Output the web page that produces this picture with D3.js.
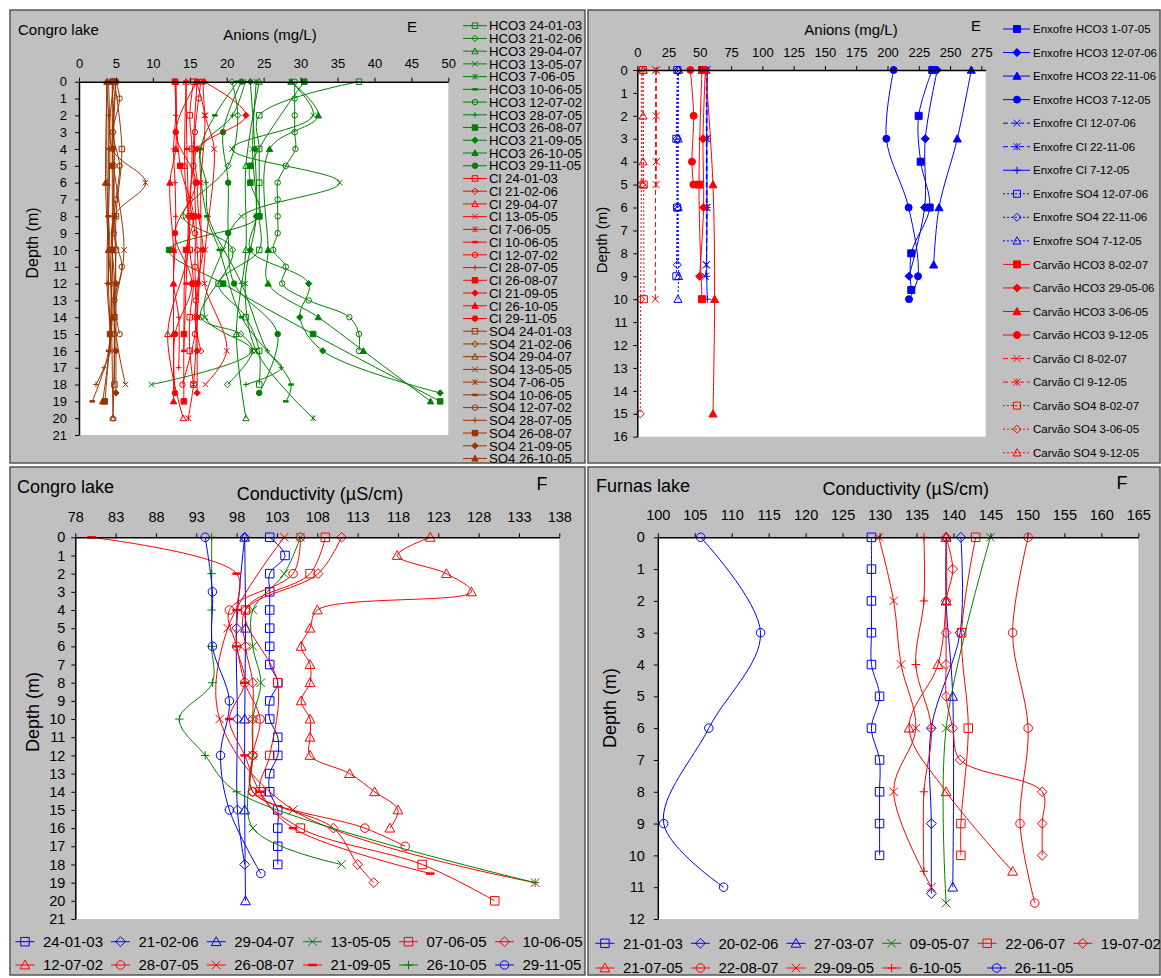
<!DOCTYPE html>
<html>
<head>
<meta charset="utf-8">
<script src="https://cdn.jsdelivr.net/npm/d3@7"></script>
<style>
  body { margin: 0; background: #fff; }
</style>
</head>
<body>
<svg id="chart" width="1161" height="978"></svg>
<script>
// ---- data: [depth (m), value] pairs ----
const hco3Dates = ["24-01-03", "21-02-06", "29-04-07", "13-05-07", "7-06-05", "10-06-05", "12-07-02", "28-07-05", "26-08-07", "21-09-05", "26-10-05", "29-11-05"];
const clDates = ["24-01-03", "21-02-06", "29-04-07", "13-05-05", "7-06-05", "10-06-05", "12-07-02", "28-07-05", "26-08-07", "21-09-05", "26-10-05", "29-11-05"];
const so4Dates = ["24-01-03", "21-02-06", "29-04-07", "13-05-05", "7-06-05", "10-06-05", "12-07-02", "28-07-05", "26-08-07", "21-09-05", "26-10-05"];

const congroHCO3 = [
  [[0, 37.9], [2, 24.4], [4, 24.4], [6, 24.4], [8, 24.4], [10, 24.4], [12, 18.9], [14, 22.6], [16, 24.4], [18, 24.4]],
  [[0, 20.7], [2, 21.5], [5, 20.2], [8, 14.1], [10, 20.8], [14, 16.5], [15, 21.9], [16, 23.5], [18, 20.1]],
  [[0, 24.4], [5, 22.6], [10, 22.6], [15, 21.3], [20, 22.6]],
  [[0, 28.7], [2, 31.7], [4, 20.7], [6, 35.3], [8, 22.0], [10, 19.5], [14, 17.1], [16, 23.4], [18, 9.8]],
  [[0, 24.0], [4, 23.5], [8, 24.0], [12, 22.5], [16, 24.0], [20, 31.7]],
  [[0, 21.5], [2, 18.4], [4, 16.5], [8, 17.3], [10, 19.0], [14, 22.0], [18, 28.7], [19, 28.0]],
  [[0, 29.2], [1, 29.2], [2, 29.2], [3, 29.2], [4, 29.3], [5, 28.0], [6, 26.9], [7, 26.9], [8, 26.9], [9, 26.9], [10, 26.3], [11, 28.0], [12, 27.5], [13, 31.1], [14, 36.6], [15, 37.9], [16, 37.9]],
  [[0, 22.5], [2, 20.8], [4, 16.4], [6, 17.2], [8, 17.5], [12, 22.0], [16, 25.5], [17, 27.4], [18, 22.6]],
  [[0, 30.5], [5, 23.2], [6, 23.2], [8, 24.4], [10, 12.2], [12, 19.5], [15, 31.7], [19, 48.9]],
  [[0, 23.2], [4, 23.8], [8, 24.0], [10, 23.2], [12, 31.1], [14, 29.9], [16, 33.0], [18.5, 48.9]],
  [[0, 28.7], [2, 32.4], [4, 25.8], [10, 25.6], [12, 25.6], [14, 32.4], [16, 38.5], [19, 47.6]],
  [[0, 22.0], [3, 19.5], [6, 20.2], [9, 20.2], [12, 21.0], [15, 26.9], [18.5, 24.4]]
];
const congroCl = [
  [[0, 15.5], [2, 15.0], [4, 15.3], [8, 15.0], [10, 15.0], [12, 15.5], [14, 15.0], [16, 15.0], [18, 15.5]],
  [[0, 16.0], [4, 15.5], [8, 15.8], [10, 16.0], [12, 16.2], [14, 15.7], [16, 16.5]],
  [[0, 14.5], [5, 14.3], [10, 14.8], [15, 12.0], [20, 14.1]],
  [[0, 16.8], [2, 17.1], [4, 18.3], [10, 17.1], [12, 17.0], [16, 20.0], [18, 17.1]],
  [[0, 15.9], [2, 17.0], [6, 16.5], [10, 16.5], [14, 16.0], [18, 15.5], [20, 14.8]],
  [[0, 14.5], [4, 14.6], [8, 14.8], [12, 14.5], [16, 14.2]],
  [[0, 16.5], [1, 16.2], [3, 15.7], [5, 15.5], [7, 15.0], [9, 15.7], [11, 15.7], [13, 15.8], [15, 15.7], [18, 14.0]],
  [[0, 13.1], [2, 13.1], [4, 12.8], [6, 13.0], [8, 13.1], [10, 13.0], [12, 12.8], [14, 13.5], [17, 13.5]],
  [[0, 13.0], [5, 13.7], [8, 15.5], [10, 14.5], [15, 14.2], [19, 14.2]],
  [[0, 16.9], [2, 22.6], [4, 16.0], [6, 16.0], [8, 16.2], [10, 16.8], [12, 16.0], [14, 16.0], [16, 16.0], [18.5, 16.0]],
  [[0, 13.1], [4, 13.1], [6, 12.3], [10, 12.8], [12, 12.8], [15, 12.8], [19, 12.8]],
  [[0, 16.0], [3, 13.1], [6, 15.8], [9, 13.0], [12, 15.3], [15, 13.0], [18.5, 13.0]]
];
const congroSO4 = [
  [[0, 4.8], [4, 5.8], [8, 5.0], [10, 5.0], [14, 4.8], [18, 4.8]],
  [[0, 4.5], [5, 4.8], [10, 4.5], [15, 4.8], [20, 4.6]],
  [[0, 3.8], [6, 3.8], [10, 4.2], [20, 4.6]],
  [[0, 5.0], [4, 4.5], [10, 6.1], [14, 4.8], [18, 6.3]],
  [[0, 4.8], [4, 4.5], [6, 9.0], [8, 4.8], [12, 4.8], [16, 4.8]],
  [[0, 4.0], [4, 4.2], [8, 4.0], [12, 4.0], [16, 4.0], [19, 1.8]],
  [[0, 5.0], [1, 5.5], [3, 4.6], [5, 5.5], [7, 5.0], [9, 4.7], [11, 5.8], [13, 4.8], [15, 5.5]],
  [[0, 3.7], [2, 4.0], [4, 4.0], [8, 3.9], [12, 3.8], [16, 4.2], [17, 3.4], [18, 2.3]],
  [[0, 4.5], [5, 4.5], [10, 4.5], [15, 4.2], [19, 3.5]],
  [[0, 5.0], [4, 4.6], [8, 4.8], [12, 5.0], [16, 5.0], [18.5, 5.0]],
  [[0, 3.8], [6, 3.6], [10, 4.0], [14, 4.5], [19, 3.2]]
];

const enxofreLabels = ["Enxofre HCO3 1-07-05", "Enxofre HCO3 12-07-06", "Enxofre HCO3 22-11-06", "Enxofre HCO3 7-12-05", "Enxofre Cl 12-07-06", "Enxofre Cl 22-11-06", "Enxofre Cl 7-12-05", "Enxofre SO4 12-07-06", "Enxofre SO4 22-11-06", "Enxofre SO4 7-12-05"];
const carvaoLabels = ["Carvão HCO3 8-02-07", "Carvão HCO3 29-05-06", "Carvão HCO3 3-06-05", "Carvão HCO3 9-12-05", "Carvão Cl 8-02-07", "Carvão Cl 9-12-05", "Carvão SO4 8-02-07", "Carvão SO4 3-06-05", "Carvão SO4 9-12-05"];
const enxofreValues = [
  [[0, 235.8], [2, 224.9], [4, 226.5], [6, 233.7], [8, 219.0], [9.6, 219.0]],
  [[0, 239.8], [3, 230.2], [6, 229.7], [9, 217.2]],
  [[0, 267.0], [3, 255.8], [6, 241.2], [8.5, 236.9]],
  [[0, 204.9], [3, 199.1], [6, 216.9], [9, 224.4], [10, 217.2]],
  [[0, 55.2], [3, 55.2], [6, 55.2], [8.5, 55.2], [9, 54.4]],
  [[0, 55.7], [3, 55.7], [6, 55.7], [8.5, 55.2]],
  [[0, 56.0], [3, 55.5], [6, 55.7], [9, 55.5], [10, 56.0]],
  [[0, 32.0], [3, 31.2], [6, 31.8], [9, 31.2]],
  [[0, 32.5], [3, 32.0], [6, 32.0], [8.5, 32.0]],
  [[0, 33.0], [3, 32.7], [6, 32.7], [9, 33.0], [10, 32.5]]
];
const carvaoValues = [
  [[0, 51.7], [5, 49.3], [10, 51.7]],
  [[0, 54.4], [3, 52.5], [6, 53.0], [9, 49.8]],
  [[0, 54.6], [5, 60.5], [10, 61.8], [15, 60.5]],
  [[0, 42.4], [2, 45.0], [4, 43.7], [5, 44.8]],
  [[0, 14.7], [10, 14.4]],
  [[0, 15.2], [2, 15.2], [4, 15.2], [5, 15.0]],
  [[0, 4.5], [5, 5.1], [10, 5.3]],
  [[0, 3.2], [5, 3.2], [10, 2.7], [15, 2.4]],
  [[0, 4.8], [2, 4.6], [4, 4.6], [5, 4.6]]
];

const congroCondDates = ["24-01-03", "21-02-06", "29-04-07", "13-05-05", "07-06-05", "10-06-05", "12-07-02", "28-07-05", "26-08-07", "21-09-05", "26-10-05", "29-11-05"];
const congroCond = [
  [[0, 102.1], [1, 104.0], [2, 102.1], [3, 102.1], [4, 102.1], [5, 102.1], [6, 102.1], [7, 102.1], [8, 103.1], [9, 102.1], [10, 102.1], [11, 103.1], [12, 103.1], [13, 102.1], [14, 102.1], [15, 103.1], [16, 103.1], [17, 103.1], [18, 103.1]],
  [[0, 99.0], [5, 98.0], [10, 98.1], [15, 98.1], [18, 99.0]],
  [[0, 99.0], [5, 99.1], [10, 99.0], [15, 99.0], [20, 99.1]],
  [[0, 105.9], [2, 103.9], [4, 100.0], [6, 100.0], [8, 101.0], [10, 100.0], [12, 100.0], [16, 100.0], [18, 111.0]],
  [[0, 109.0], [2, 107.1], [4, 99.1], [8, 103.1], [12, 102.1], [14, 100.9], [16, 105.9], [18, 121.0], [20, 130.0]],
  [[0, 111.0], [2, 108.1], [4, 99.1], [6, 99.1], [8, 100.0], [10, 100.0], [12, 100.0], [14, 100.0], [16, 110.0], [18, 113.0], [19, 115.0]],
  [[0, 122.0], [1, 117.9], [2, 124.0], [3, 127.1], [4, 108.0], [5, 107.1], [6, 106.0], [7, 107.1], [8, 107.1], [9, 106.0], [10, 107.1], [11, 107.1], [12, 107.1], [13, 112.0], [14, 115.1], [15, 118.0], [16, 117.0]],
  [[0, 105.9], [2, 105.0], [4, 97.1], [6, 98.0], [8, 99.0], [10, 100.9], [12, 100.0], [14, 100.0], [16, 113.9], [17, 118.9]],
  [[0, 103.9], [5, 96.9], [10, 95.9], [15, 105.0], [19, 135.0]],
  [[0, 80.0], [2, 98.0], [4, 98.0], [6, 98.0], [8, 99.0], [10, 97.1], [12, 99.0], [14, 100.9], [16, 105.0], [18.5, 122.0]],
  [[0, 94.9], [2, 94.9], [4, 94.9], [6, 94.9], [8, 95.0], [10, 90.9], [12, 94.1], [14, 98.0], [19, 135.0]],
  [[0, 94.1], [3, 95.0], [6, 95.0], [9, 97.1], [12, 96.0], [15, 97.1], [18.5, 101.0]]
];

const furnasCondDates = ["21-01-03", "20-02-06", "27-03-07", "09-05-07", "22-06-07", "19-07-02", "21-07-05", "22-08-07", "29-09-05", "6-10-05", "26-11-05"];
const furnasCond = [
  [[0, 128.9], [1, 128.9], [2, 128.9], [3, 128.9], [4, 128.9], [5, 130.0], [6, 128.9], [7, 130.0], [8, 130.0], [9, 130.0], [10, 130.0]],
  [[0, 141.0], [3, 140.9], [6, 137.0], [9, 137.0], [11.2, 137.0]],
  [[0, 139.0], [2, 139.0], [5, 139.9], [11, 139.9]],
  [[0, 145.0], [6, 139.0], [11.5, 139.0]],
  [[0, 143.0], [3, 141.1], [6, 142.0], [9, 141.0], [10, 141.0]],
  [[0, 139.0], [1, 139.9], [2, 139.0], [3, 139.0], [4, 139.0], [5, 139.0], [6, 139.9], [7, 140.9], [8, 152.0], [9, 152.0], [10, 152.0]],
  [[0, 139.0], [2, 139.0], [4, 137.9], [6, 134.0], [8, 139.0], [10.5, 148.0]],
  [[0, 150.1], [3, 148.0], [6, 150.1], [9, 149.0], [11.5, 151.0]],
  [[0, 129.9], [2, 131.9], [4, 132.9], [6, 134.9], [8, 131.9], [11, 137.0]],
  [[0, 136.0], [2, 136.0], [4, 134.9], [6, 137.0], [8, 136.0], [10.5, 136.0]],
  [[0, 105.8], [3, 113.9], [6, 106.9], [9, 100.8], [11, 108.9]]
];

const anionTicksA = [0, 5, 10, 15, 20, 25, 30, 35, 40, 45, 50];
const anionTicksB = [0, 25, 50, 75, 100, 125, 150, 175, 200, 225, 250, 275];
const condTicksC = [78, 83, 88, 93, 98, 103, 108, 113, 118, 123, 128, 133, 138];
const condTicksD = [100, 105, 110, 115, 120, 125, 130, 135, 140, 145, 150, 155, 160, 165];

// ---- styles ----
const GREEN = "#008000", RED = "#ff0000", BROWN = "#993300", BLUE = "#0000ff";
const FONT = "Arial, 'Liberation Sans', sans-serif";
const markers12 = ["square", "diamond", "triangle", "x", "star", "dash", "circle", "plus", "fsquare", "fdiamond", "ftriangle", "fcircle"];

const svg = d3.select("#chart");

function symPath(type, s) {
  const h = s / 2;
  const t = type.replace(/^f/, "");
  if (t === "square") return `M${-h},${-h}H${h}V${h}H${-h}Z`;
  if (t === "diamond") { const d = h * 1.15; return `M0,${-d}L${d},0L0,${d}L${-d},0Z`; }
  if (t === "triangle") { const d = h * 1.15; return `M0,${-d}L${d},${d * 0.8}L${-d},${d * 0.8}Z`; }
  if (t === "circle") return `M${h},0A${h},${h} 0 1,1 ${-h},0A${h},${h} 0 1,1 ${h},0Z`;
  if (t === "x") return `M${-h},${-h}L${h},${h}M${-h},${h}L${h},${-h}`;
  if (t === "star") return `M${-h},${-h}L${h},${h}M${-h},${h}L${h},${-h}M0,${-h}V${h}`;
  if (t === "plus") return `M${-h},0H${h}M0,${-h}V${h}`;
  return `M${-h},0H${h}`;
}

function drawMarker(g, type, color, s, x, y) {
  g.append("path")
    .attr("d", symPath(type, s))
    .attr("transform", `translate(${x},${y})`)
    .attr("fill", type.startsWith("f") ? color : "none")
    .attr("stroke", color)
    .attr("stroke-width", type === "dash" ? 2.5 : 1);
}

function drawPanel(p) {
  const g = svg.append("g");
  g.append("rect")
    .attr("x", p.box[0]).attr("y", p.box[1])
    .attr("width", p.box[2]).attr("height", p.box[3])
    .attr("fill", "#c0c0c0").attr("stroke", "#555").attr("stroke-width", 1.5);

  const x = d3.scaleLinear().domain(p.xDomain).range([p.plot[0], p.plot[1]]);
  const y = d3.scaleLinear().domain(p.yDomain).range([p.plot[2], p.plot[3]]);

  g.append("rect")
    .attr("x", p.plot[0]).attr("y", p.plot[2])
    .attr("width", p.plot[1] - p.plot[0]).attr("height", p.plot[3] - p.plot[2])
    .attr("fill", "#fff");

  const line = d3.line()
    .x(d => x(d[1]))
    .y(d => y(d[0]))
    .curve(d3.curveCatmullRom.alpha(0.5));

  p.series.forEach(s => {
    g.append("path")
      .attr("d", line(s.values))
      .attr("fill", "none")
      .attr("stroke", s.color)
      .attr("stroke-width", 1)
      .attr("stroke-dasharray", s.dash || null);
    s.values.forEach(d => drawMarker(g, s.marker, s.color, p.markerSize, x(d[1]), y(d[0])));
  });

  const xa = g.append("g")
    .attr("transform", `translate(0,${p.plot[2]})`)
    .call(d3.axisTop(x).tickValues(p.xTicks).tickSize(4).tickSizeOuter(0).tickPadding(p.xPad));
  const ya = g.append("g")
    .attr("transform", `translate(${p.plot[0]},0)`)
    .call(d3.axisLeft(y).tickValues(d3.range(p.yDomain[0], p.yDomain[1] + 1)).tickSize(4).tickSizeOuter(0).tickPadding(p.yPad));
  [xa, ya].forEach(a => {
    a.attr("font-family", FONT).attr("font-size", p.tickFont);
    a.select(".domain").attr("stroke", "#000").attr("stroke-width", 1.5);
    a.selectAll("line").attr("stroke", "#000");
    a.selectAll("text").attr("fill", "#000");
  });

  p.texts.forEach(t => {
    const txt = g.append("text")
      .attr("font-family", FONT)
      .attr("font-size", t.size)
      .attr("text-anchor", t.anchor || "middle")
      .attr("fill", "#000")
      .text(t.text);
    if (t.rotate) txt.attr("transform", `translate(${t.x},${t.y}) rotate(-90)`).attr("dy", "0.35em");
    else txt.attr("x", t.x).attr("y", t.y);
  });

  p.legend.items.forEach((s, i) => {
    const pos = p.legend.pos(i);
    const lg = g.append("g").attr("transform", `translate(${pos[0]},${pos[1]})`);
    lg.append("line")
      .attr("x1", p.legend.line[0]).attr("x2", p.legend.line[1])
      .attr("stroke", s.color).attr("stroke-width", 1)
      .attr("stroke-dasharray", s.dash || null);
    drawMarker(lg, s.marker, s.color, p.markerSize, p.legend.mark, 0);
    lg.append("text")
      .attr("x", p.legend.text)
      .attr("dy", "0.36em")
      .attr("font-family", FONT)
      .attr("font-size", p.legend.font)
      .attr("fill", "#000")
      .text(s.label);
  });
}

// ---- panel E, Congro lake ----
const seriesA = [
  ...congroHCO3.map((v, i) => ({ label: "HCO3 " + hco3Dates[i], values: v, color: GREEN, marker: markers12[i] })),
  ...congroCl.map((v, i) => ({ label: "Cl " + clDates[i], values: v, color: RED, marker: markers12[i] })),
  ...congroSO4.map((v, i) => ({ label: "SO4 " + so4Dates[i], values: v, color: BROWN, marker: markers12[i] }))
];
drawPanel({
  box: [10, 10, 575, 453],
  plot: [79, 448.3, 81.7, 435],
  xDomain: [0, 50], yDomain: [0, 21], xTicks: anionTicksA,
  tickFont: 13, xPad: 9.5, yPad: 8, markerSize: 5.5,
  series: seriesA,
  texts: [
    { text: "Congro lake", x: 18, y: 35, size: 15, anchor: "start" },
    { text: "Anions (mg/L)", x: 270, y: 40, size: 15 },
    { text: "E", x: 412, y: 31.5, size: 15 },
    { text: "Depth  (m)", x: 32, y: 243, size: 16, rotate: true }
  ],
  legend: { items: seriesA, pos: i => [0, 25.7 + i * 12.73], line: [463, 487], mark: 475, text: 489, font: 13.2 }
});

// ---- panel E, Enxofre / Carvão ----
const bStyles = [
  { color: BLUE, marker: "fsquare" }, { color: BLUE, marker: "fdiamond" }, { color: BLUE, marker: "ftriangle" }, { color: BLUE, marker: "fcircle" },
  { color: BLUE, marker: "x", dash: "5,3" }, { color: BLUE, marker: "star", dash: "5,3" }, { color: BLUE, marker: "plus" },
  { color: BLUE, marker: "square", dash: "2,2" }, { color: BLUE, marker: "diamond", dash: "2,2" }, { color: BLUE, marker: "triangle", dash: "2,2" },
  { color: RED, marker: "fsquare" }, { color: RED, marker: "fdiamond" }, { color: RED, marker: "ftriangle" }, { color: RED, marker: "fcircle" },
  { color: RED, marker: "x", dash: "5,3" }, { color: RED, marker: "star", dash: "5,3" },
  { color: RED, marker: "square", dash: "2,2" }, { color: RED, marker: "diamond", dash: "2,2" }, { color: RED, marker: "triangle", dash: "2,2" }
];
const bLabels = [...enxofreLabels, ...carvaoLabels];
const bValues = [...enxofreValues, ...carvaoValues];
const seriesB = bValues.map((v, i) => ({ label: bLabels[i], values: v, ...bStyles[i] }));
drawPanel({
  box: [588, 10, 572, 453],
  plot: [637.3, 985.7, 70, 436.7],
  xDomain: [0, 278.5], yDomain: [0, 16], xTicks: anionTicksB,
  tickFont: 13, xPad: 9.5, yPad: 5.5, markerSize: 7,
  series: seriesB,
  texts: [
    { text: "Anions (mg/L)", x: 851, y: 35, size: 15 },
    { text: "E", x: 976, y: 30.5, size: 15 },
    { text: "Depth (m)", x: 602, y: 240, size: 15, rotate: true }
  ],
  legend: { items: seriesB, pos: i => [0, 29 + i * 23.54], line: [1003, 1030], mark: 1017, text: 1033, font: 11.5 }
});

// ---- panel F, Congro lake ----
const cStyles = [
  { color: BLUE, marker: "square" }, { color: BLUE, marker: "diamond" }, { color: BLUE, marker: "triangle" }, { color: GREEN, marker: "x" },
  { color: RED, marker: "square" }, { color: RED, marker: "diamond" }, { color: RED, marker: "triangle" }, { color: RED, marker: "circle" },
  { color: RED, marker: "x" }, { color: RED, marker: "dash" }, { color: GREEN, marker: "plus" }, { color: BLUE, marker: "circle" }
];
const seriesC = congroCond.map((v, i) => ({ label: congroCondDates[i], values: v, ...cStyles[i] }));
const legendColsC = [15.5, 111, 206.7, 303, 399, 495];
drawPanel({
  box: [10, 467, 575, 508],
  plot: [75.3, 559.3, 537.3, 919],
  xDomain: [78, 138], yDomain: [0, 21], xTicks: condTicksC,
  tickFont: 14.5, xPad: 11.5, yPad: 6, markerSize: 8.5,
  series: seriesC,
  texts: [
    { text: "Congro lake", x: 17, y: 493, size: 18, anchor: "start" },
    { text: "Conductivity (µS/cm)", x: 320, y: 500, size: 18 },
    { text: "F", x: 542, y: 489.5, size: 18 },
    { text: "Depth  (m)", x: 33, y: 712, size: 18, rotate: true }
  ],
  legend: { items: seriesC, pos: i => [legendColsC[i % 6], i < 6 ? 941.7 : 965], line: [0, 19], mark: 9.5, text: 27.5, font: 15 }
});

// ---- panel F, Furnas lake ----
const dStyles = [
  { color: BLUE, marker: "square" }, { color: BLUE, marker: "diamond" }, { color: BLUE, marker: "triangle" }, { color: GREEN, marker: "x" },
  { color: RED, marker: "square" }, { color: RED, marker: "diamond" }, { color: RED, marker: "triangle" }, { color: RED, marker: "circle" },
  { color: RED, marker: "x" }, { color: RED, marker: "plus" }, { color: BLUE, marker: "circle" }
];
const seriesD = furnasCond.map((v, i) => ({ label: furnasCondDates[i], values: v, ...dStyles[i] }));
const legendPosD = [[595.4, 943.3], [690.9, 943.3], [786.5, 943.3], [882.1, 943.3], [977.7, 943.3], [1073.3, 943.3],
  [595.4, 968], [690.9, 968], [786.5, 968], [882.1, 968], [987, 968]];
drawPanel({
  box: [588, 467, 572, 508],
  plot: [657.8, 1138.3, 537.3, 919],
  xDomain: [100, 165], yDomain: [0, 12], xTicks: condTicksD,
  tickFont: 14.5, xPad: 13, yPad: 9, markerSize: 8.5,
  series: seriesD,
  texts: [
    { text: "Furnas lake", x: 596, y: 492, size: 18, anchor: "start" },
    { text: "Conductivity (µS/cm)", x: 905.7, y: 495, size: 18 },
    { text: "F", x: 1122, y: 489, size: 18 },
    { text: "Depth (m)", x: 610, y: 708, size: 18, rotate: true }
  ],
  legend: { items: seriesD, pos: i => legendPosD[i], line: [0, 19], mark: 9.5, text: 27.5, font: 15 }
});
</script>
</body>
</html>
